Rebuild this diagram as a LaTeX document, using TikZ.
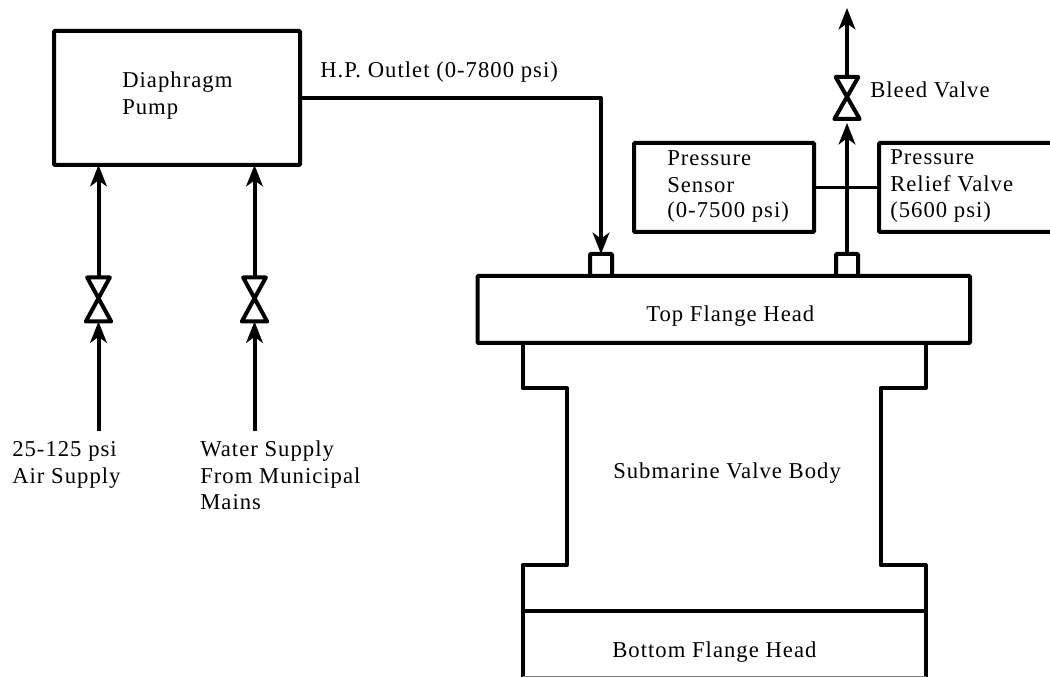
\documentclass[tikz,border=0pt]{standalone}
\usepackage{fontspec}
\setmainfont[LetterSpace=4.5]{Liberation Serif}
\usetikzlibrary{arrows.meta,calc}
\tikzset{
  x=0.75pt,y=-0.75pt,
  pipe/.style={line width=3pt,line join=round},
  flow/.style={pipe,-{Stealth[length=16pt,width=12.5pt,inset=4.5pt]}},
  thin pipe/.style={line width=2.3pt},
  box/.style={draw,line width=3pt,rounded corners=0.8pt,inner sep=0pt,outer sep=0pt,fill=white},
  port/.style={box,minimum width=16.5pt,minimum height=16.5pt},
  valve/.style={inner sep=0pt,outer sep=0pt,minimum width=19pt,minimum height=33pt},
  label/.style={anchor=base west,inner sep=0pt,font=\fontsize{17pt}{20pt}\selectfont},
}
\newcommand{\boxat}[5]{\node[box,minimum width=#4*0.75pt,minimum height=#5*0.75pt,anchor=north west] (#1) at (#2,#3) {};}
\newcommand{\valvesym}[1]{\draw[pipe,fill=white,miter limit=3] ([xshift=1pt]#1.north west) -- ([xshift=-1pt]#1.north east) -- (#1.south west) -- (#1.south east) -- cycle;}
\begin{document}
\begin{tikzpicture}
\useasboundingbox (0,0) rectangle (1050,677);
\fill[white] (0,0) rectangle (1050,677);
% body outline
\coordinate (bl) at (522.5,677); \coordinate (br) at (925.5,677);
\draw[pipe] (bl) -- (522.5,565) -- (567,565) -- (567,388) -- (522.5,388) -- (522.5,343);
\draw[pipe] (br) -- (925.5,565) -- (880.5,565) -- (880.5,388) -- (925.5,388) -- (925.5,343);
\draw[line width=3.6pt] (522.5,611) -- (925.5,611);
\draw[line width=1pt,gray] (522.5,676.5) -- (925.5,676.5);
% boxes
\boxat{pump}{54}{31}{246}{134}
\boxat{flange}{477.5}{276}{492.5}{67}
\boxat{sensor}{634}{143}{180}{89}
\node[box,minimum width=190*0.75pt,minimum height=89*0.75pt,anchor=north west] (relief) at (879,143) {};
\clip (0,0) rectangle (1050,677);
% ports
\node[port] (p1) at (601,265) {};
\node[port] (p2) at (847,265) {};
% valves
\node[valve] (v1) at (98.5,299.5) {};
\node[valve] (v2) at (254.5,299.5) {};
\node[valve,minimum height=31.5pt] (v3) at (847,98) {};
\coordinate (airin) at (98.5,431);
\coordinate (waterin) at (254.5,431);
\coordinate (vent) at (847,8);
\coordinate (elbow) at (601,98);
% connectors
\draw[flow] (airin) -- (v1.south);
\draw[flow] (waterin) -- (v2.south);
\draw[flow] (v1.north) -- (pump.south -| v1.north);
\draw[flow] (v2.north) -- (pump.south -| v2.north);
\draw[flow] (pump.east |- elbow) -- (elbow) -- (p1.north);
\draw[flow,shorten >=3pt] (p2.north) -- (v3.south);
\draw[flow] (v3.north) -- (vent);
\draw[thin pipe] (sensor.east) -- (relief.west);
\valvesym{v1}\valvesym{v2}\valvesym{v3}
% labels
\node[label] (t1) at (122,88) {Diaphragm};
\node[label] (t2) at (122,115) {Pump};
\node[label] (t3) at (320,78) {H.P. Outlet (0-7800 psi)};
\node[label] (t4) at (870,98) {Bleed Valve};
\node[label] (t5) at (667,166) {Pressure};
\node[label] (t6) at (667,193) {Sensor};
\node[label] (t7) at (667,218) {(0-7500 psi)};
\node[label] (t8) at (890,165) {Pressure};
\node[label] (t9) at (890,192) {Relief Valve};
\node[label] (t10) at (890,218) {(5600 psi)};
\node[label] (t11) at (646,322) {Top Flange Head};
\node[label] (t12) at (613,478) {Submarine Valve Body};
\node[label] (t13) at (612,657) {Bottom Flange Head};
\node[label] (t14) at (12,456) {25-125 psi};
\node[label] (t15) at (12,483) {Air Supply};
\node[label] (t16) at (200,456) {Water Supply};
\node[label] (t17) at (200,483) {From Municipal};
\node[label] (t18) at (200,509) {Mains};
\end{tikzpicture}
\end{document}
